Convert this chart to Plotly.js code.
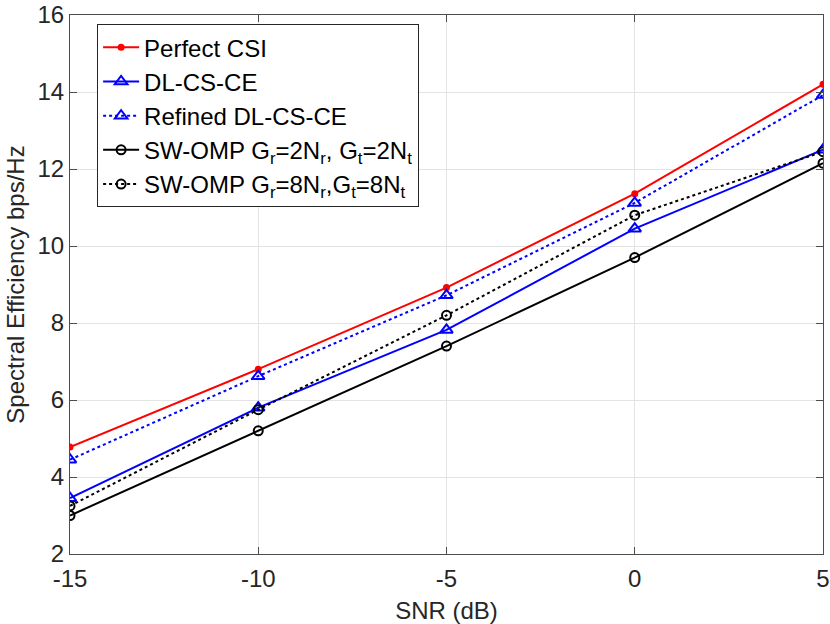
<!DOCTYPE html>
<html>
<head>
<meta charset="utf-8">
<script src="https://cdn.plot.ly/plotly-3.0.1.min.js"></script>
<style>
  html, body { margin: 0; padding: 0; background: #fff; }
  #chart { width: 830px; height: 624px; }
</style>
</head>
<body>
<div id="chart"></div>
<script>
// SNR points (dB)
const snr = [-15, -10, -5, 0, 5];

// spectral efficiency, bps/Hz
const perfectCsi = [4.78, 6.8, 8.92, 11.36, 14.2];
const dlCsCe = [3.45, 5.8, 7.82, 10.45, 12.5];
const refinedDlCsCe = [4.45, 6.62, 8.72, 11.12, 13.92];
const swOmp2 = [3.0, 5.2, 7.4, 9.7, 12.15];
const swOmp8 = [3.25, 5.75, 8.2, 10.8, 12.45];

const xTicks = [-15, -10, -5, 0, 5];
const yTicks = [2, 4, 6, 8, 10, 12, 14, 16];

const font = "'Liberation Sans', Arial, Helvetica, sans-serif";
const axisColor = "#262626";

function series(y, name, color, dash, symbol, size) {
  return {
    x: snr,
    y: y,
    name: name,
    mode: "lines+markers",
    line: { color: color, width: 2, dash: dash },
    marker: {
      symbol: symbol,
      size: size,
      color: color,
      line: { color: color, width: 2 }
    }
  };
}

const traces = [
  series(perfectCsi, "Perfect CSI", "#ff0000", "solid", "circle", 5),
  series(dlCsCe, "DL-CS-CE", "#0000ff", "solid", "triangle-up-open", 11),
  series(refinedDlCsCe, "Refined DL-CS-CE", "#0000ff", "dot", "triangle-up-open", 11),
  series(swOmp2, "SW-OMP G<sub>r</sub>=2N<sub>r</sub>, G<sub>t</sub>=2N<sub>t</sub>", "#000000", "solid", "circle-open", 9),
  series(swOmp8, "SW-OMP G<sub>r</sub>=8N<sub>r</sub>,G<sub>t</sub>=8N<sub>t</sub>", "#000000", "dot", "circle-open", 9)
];

const axisBase = {
  showline: true,
  mirror: "ticks",
  linecolor: "#4d4d4d",
  linewidth: 1,
  ticks: "inside",
  ticklen: 7,
  tickcolor: "#4d4d4d",
  showgrid: true,
  gridcolor: "#e3e3e3",
  gridwidth: 1,
  zeroline: false,
  tickfont: { family: font, size: 24, color: axisColor },
  fixedrange: true
};

const layout = {
  width: 830,
  height: 624,
  margin: { l: 70, r: 7, t: 15, b: 70, pad: 0 },
  paper_bgcolor: "#ffffff",
  plot_bgcolor: "#ffffff",
  font: { family: font, color: axisColor },
  xaxis: Object.assign({}, axisBase, {
    range: [-15, 5],
    tickvals: xTicks,
    ticktext: xTicks.map(String),
    ticklabelstandoff: 3,
    title: { text: "SNR (dB)", font: { family: font, size: 24, color: axisColor }, standoff: 14 }
  }),
  yaxis: Object.assign({}, axisBase, {
    range: [2, 16],
    tickvals: yTicks,
    ticktext: yTicks.map(String),
    title: { text: "Spectral Efficiency bps/Hz", font: { family: font, size: 24, color: axisColor }, standoff: 6 }
  }),
  showlegend: true,
  legend: {
    x: 0.036,
    y: 0.983,
    xanchor: "left",
    yanchor: "top",
    bgcolor: "#ffffff",
    bordercolor: axisColor,
    borderwidth: 1,
    font: { family: font, size: 24, color: "#000000" },
    tracegroupgap: 0,
    itemwidth: 36
  }
};

Plotly.newPlot("chart", traces, layout, { displayModeBar: false, staticPlot: true });
</script>
</body>
</html>
